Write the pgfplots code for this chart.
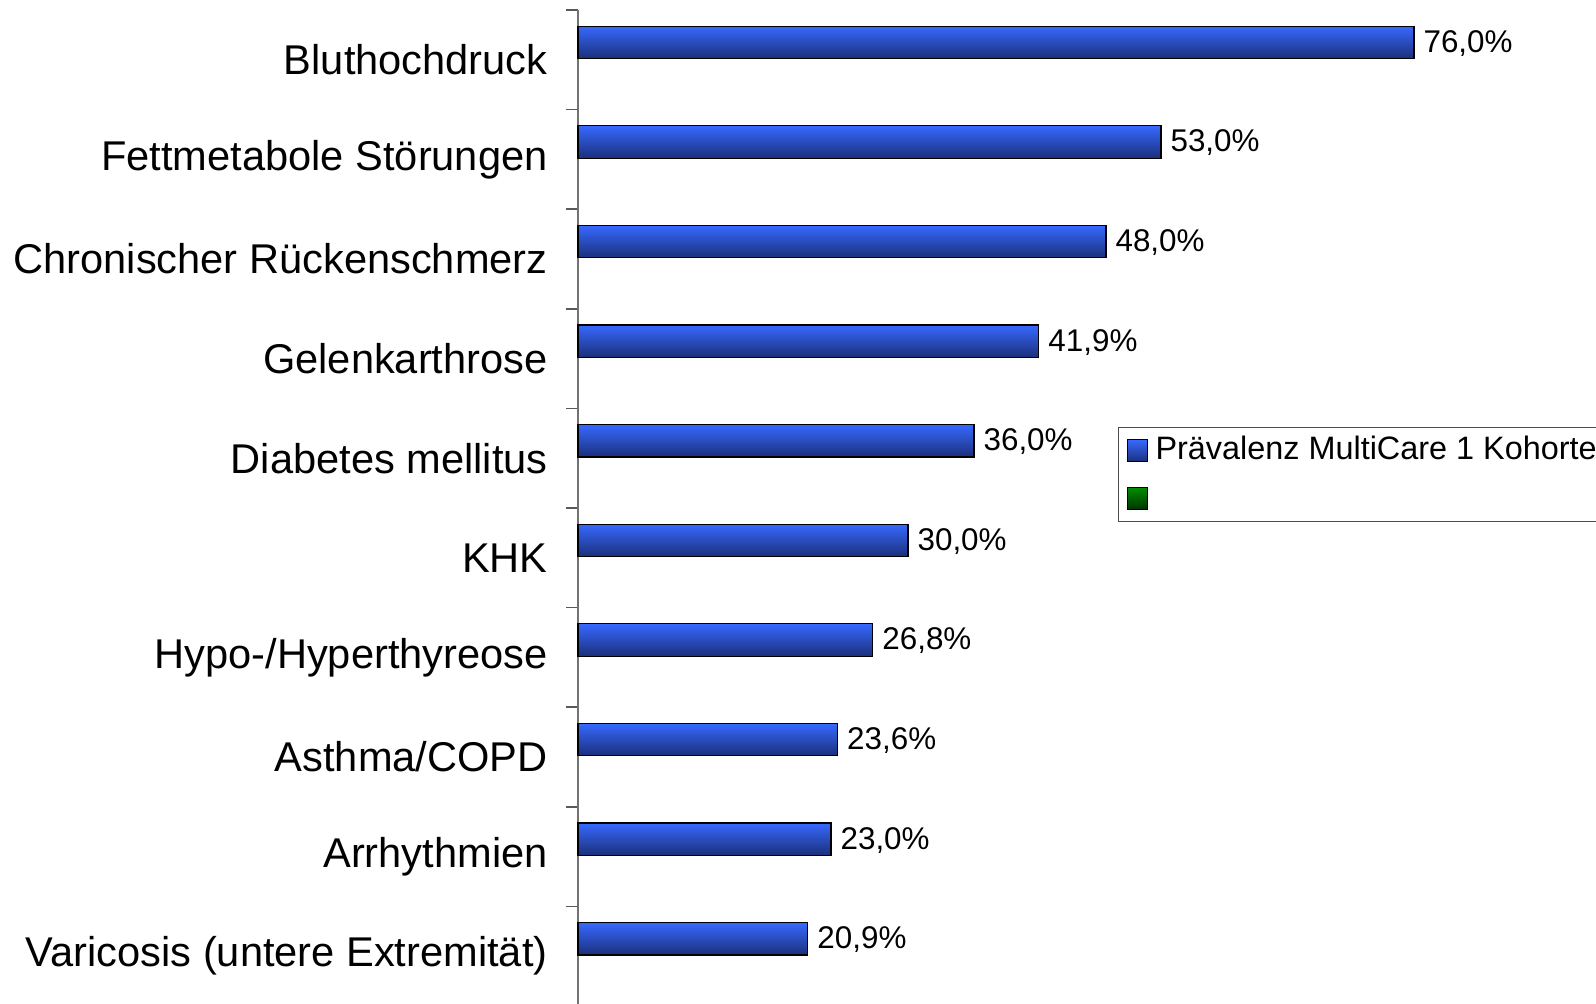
\documentclass[border=0pt]{standalone}
\usepackage{pgfplots}
\pgfplotsset{compat=1.18}
\usepackage{fontspec}
\setmainfont{Liberation Sans}
\definecolor{barTop}{RGB}{55,105,255}
\definecolor{barMid}{RGB}{42,88,222}
\definecolor{barBot}{RGB}{27,47,122}
\definecolor{grTop}{RGB}{0,140,0}
\definecolor{grBot}{RGB}{0,50,0}
\begin{document}
\begin{tikzpicture}
\begin{axis}[
  at={(289pt,-1pt)}, anchor=south west,
  scale only axis, width=509pt, height=498pt,
  xmin=0, xmax=92.55, ymin=-0.5, ymax=9.5,
  axis x line=none, axis y line*=left,
  axis line style={draw=gray!90!black, line width=0.8pt},
  ytick={0,...,9},
  yticklabels={Varicosis (untere Extremität),Arrhythmien,Asthma/COPD,Hypo-/Hyperthyreose,KHK,Diabetes mellitus,Gelenkarthrose,Chronischer Rückenschmerz,Fettmetabole Störungen,Bluthochdruck},
  yticklabel style={font=\fontsize{20.8}{24}\selectfont, anchor=east, inner sep=0pt, xshift=-15pt},
  major tick length=0pt,
  minor ytick={-0.5,0.5,...,9.5},
  minor tick length=6pt,
  tick pos=left, tick align=outside,
  minor tick style={draw=gray!70!black, line width=0.8pt},
  xbar, bar width=16.25pt, bar shift=8.7pt,
  nodes near coords={\pgfmathprintnumber[fixed,fixed zerofill,precision=1,use comma,assume math mode=true]{\pgfplotspointmeta}\%},
  point meta=x,
  nodes near coords style={font=\fontsize{15.7}{18}\selectfont, anchor=west, inner sep=0pt, xshift=4.5pt, yshift=-0.5pt, text=black},
  legend style={at={(0.5305,0.5813)}, anchor=north west, draw=black!70, line width=0.5pt,
    font=\fontsize{16.2}{19}\selectfont, inner xsep=4pt, inner ysep=3.5pt, row sep=8pt,
    nodes={inner ysep=1pt, inner xsep=4pt, anchor=west}},
  legend cell align=left,
  legend image code/.code={\draw[#1, draw=black, line width=0.5pt] (0pt,-6pt) rectangle (10pt,5pt);},
  clip=false,
  blu/.style={draw=black, line width=0.6pt, top color=barTop, middle color=barMid, bottom color=barBot},
]
\addplot[blu] coordinates {(76.0,9)};
\addlegendentry{Prävalenz MultiCare 1 Kohorte}
\addlegendimage{draw=black, top color=grTop, bottom color=grBot}
\addlegendentry{\strut}
\addplot[blu, forget plot] coordinates {(53.0,8)};
\addplot[blu, forget plot] coordinates {(48.0,7)};
\addplot[blu, forget plot] coordinates {(41.9,6)};
\addplot[blu, forget plot] coordinates {(36.0,5)};
\addplot[blu, forget plot] coordinates {(30.0,4)};
\addplot[blu, forget plot] coordinates {(26.8,3)};
\addplot[blu, forget plot] coordinates {(23.6,2)};
\addplot[blu, forget plot] coordinates {(23.0,1)};
\addplot[blu, forget plot] coordinates {(20.9,0)};
\end{axis}
\pgfresetboundingbox
\useasboundingbox (0pt,0pt) rectangle (798pt,502pt);
\end{tikzpicture}
\end{document}
